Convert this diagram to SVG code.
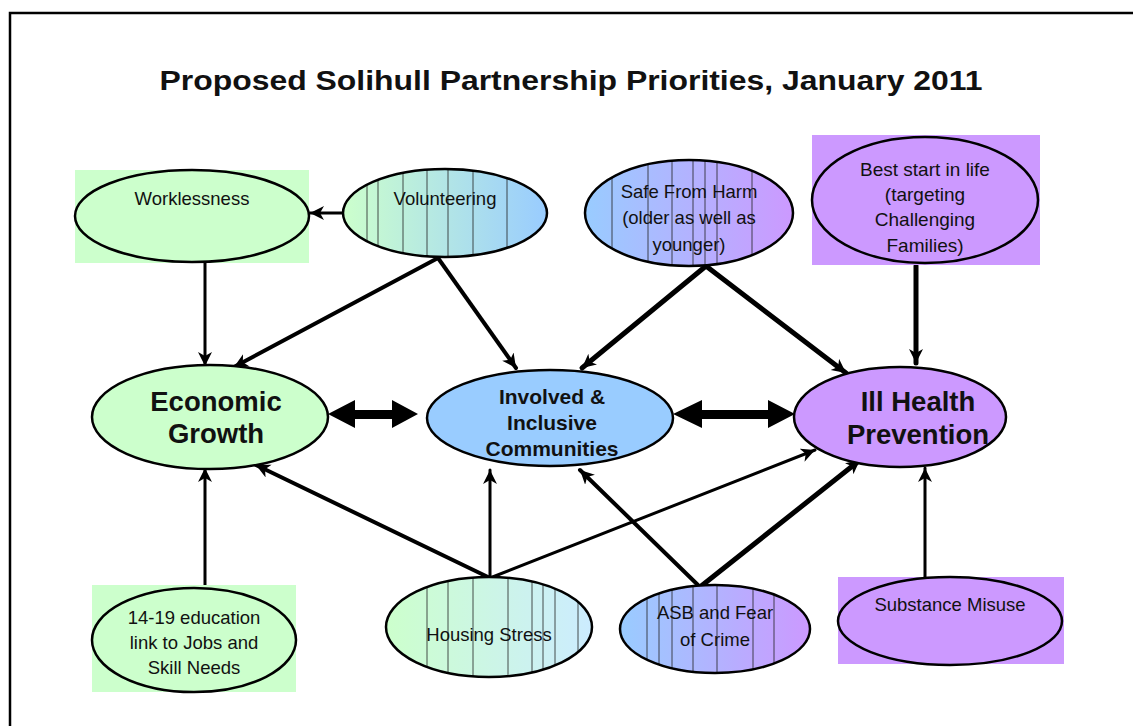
<svg xmlns="http://www.w3.org/2000/svg" width="1133" height="726" viewBox="0 0 1133 726">
  <style>
    text { font-family: "Liberation Sans", Arial, sans-serif; fill: #111; text-anchor: middle; }
    .small { font-size: 18.5px; }
    .mid { font-size: 21px; font-weight: bold; }
    .big { font-size: 27.5px; font-weight: bold; }
    .title { font-size: 27px; font-weight: bold; }
    .shape { stroke: #000; stroke-width: 2.5; }
    .stripe { stroke: #222; stroke-width: 0.8; }
    .link { stroke: #000; fill: none; stroke-linecap: round; }
    .w3 { stroke-width: 3; }
    .w4 { stroke-width: 4; }
    .w5 { stroke-width: 5; }
  </style>
  <defs>
    <marker id="arrow" markerUnits="userSpaceOnUse" markerWidth="18" markerHeight="16" refX="14" refY="7" orient="auto">
      <path d="M0,0 L14,7 L0,14 L4,7 Z" fill="#000"/>
    </marker>
    <linearGradient id="greenBlue" x1="0" y1="0" x2="1" y2="0">
      <stop offset="0" stop-color="#ccffcc"/>
      <stop offset="1" stop-color="#99ccff"/>
    </linearGradient>
    <linearGradient id="bluePurple" x1="0" y1="0" x2="1" y2="0">
      <stop offset="0" stop-color="#99ccff"/>
      <stop offset="1" stop-color="#cc99ff"/>
    </linearGradient>
    <linearGradient id="greenSky" x1="0" y1="0" x2="1" y2="0">
      <stop offset="0" stop-color="#ccffcc"/>
      <stop offset="1" stop-color="#ccecff"/>
    </linearGradient>
    <clipPath id="clipVol"><ellipse cx="445" cy="213" rx="102" ry="44"/></clipPath>
    <clipPath id="clipSafe"><ellipse cx="689" cy="213" rx="104" ry="53"/></clipPath>
    <clipPath id="clipHouse"><ellipse cx="489" cy="627" rx="103" ry="50"/></clipPath>
    <clipPath id="clipAsb"><ellipse cx="715" cy="629" rx="95" ry="44"/></clipPath>
  </defs>

  <rect width="1133" height="726" fill="#fff"/>
  <!-- page frame -->
  <path d="M10,740 L10,13 L1140,13" fill="none" stroke="#000" stroke-width="2.5"/>

  <text class="title" x="571" y="90" textLength="823" lengthAdjust="spacingAndGlyphs">Proposed Solihull Partnership Priorities, January 2011</text>

  <!-- connectors -->
  <g id="connectors">
    <line class="link w3" x1="343" y1="213" x2="310" y2="213" marker-end="url(#arrow)"/>
    <line class="link w3" x1="205" y1="263" x2="205" y2="366" marker-end="url(#arrow)"/>
    <line class="link w4" x1="438" y1="258" x2="234" y2="367" marker-end="url(#arrow)"/>
    <line class="link w4" x1="438" y1="258" x2="516" y2="368" marker-end="url(#arrow)"/>
    <line class="link w5" x1="706" y1="266" x2="582" y2="368" marker-end="url(#arrow)"/>
    <line class="link w5" x1="706" y1="266" x2="846" y2="373" marker-end="url(#arrow)"/>
    <line class="link w5" x1="916" y1="266" x2="916" y2="363" marker-end="url(#arrow)"/>
    <line class="link w3" x1="205" y1="587" x2="205" y2="468" marker-end="url(#arrow)"/>
    <line class="link w4" x1="490" y1="578" x2="256" y2="465" marker-end="url(#arrow)"/>
    <line class="link w3" x1="490" y1="578" x2="490" y2="470" marker-end="url(#arrow)"/>
    <line class="link w3" x1="490" y1="578" x2="815" y2="450" marker-end="url(#arrow)"/>
    <line class="link w4" x1="700" y1="587" x2="580" y2="470" marker-end="url(#arrow)"/>
    <line class="link w5" x1="700" y1="587" x2="860" y2="460" marker-end="url(#arrow)"/>
    <line class="link w3" x1="925" y1="577" x2="925" y2="468" marker-end="url(#arrow)"/>
    <!-- two-way block arrows between the three themes -->
    <path d="M328,414 L355,400 L355,410 L392,410 L392,400 L418,414 L392,428 L392,419 L355,419 L355,428 Z" fill="#000"/>
    <path d="M673,414 L702,400 L702,410 L768,410 L768,400 L795,414 L768,428 L768,419 L702,419 L702,428 Z" fill="#000"/>
  </g>

  <g id="worklessness">
    <rect x="75" y="170" width="234" height="93" fill="#ccffcc"/>
    <ellipse class="shape" cx="192" cy="216" rx="117" ry="46" fill="#ccffcc"/>
    <text class="small" x="192" y="205">Worklessness</text>
  </g>

  <g id="volunteering">
    <ellipse cx="445" cy="213" rx="102" ry="44" fill="url(#greenBlue)"/>
    <g clip-path="url(#clipVol)" class="stripe">
      <line x1="367" y1="160" x2="367" y2="270"/>
      <line x1="378" y1="160" x2="378" y2="270"/>
      <line x1="403" y1="160" x2="403" y2="270"/>
      <line x1="427" y1="160" x2="427" y2="270"/>
      <line x1="448" y1="160" x2="448" y2="270"/>
      <line x1="473" y1="160" x2="473" y2="270"/>
      <line x1="507" y1="160" x2="507" y2="270"/>
    </g>
    <ellipse class="shape" cx="445" cy="213" rx="102" ry="44" fill="none"/>
    <text class="small" x="445" y="205">Volunteering</text>
  </g>

  <g id="safe-from-harm">
    <ellipse cx="689" cy="213" rx="104" ry="53" fill="url(#bluePurple)"/>
    <g clip-path="url(#clipSafe)" class="stripe">
      <line x1="612" y1="150" x2="612" y2="280"/>
      <line x1="648" y1="150" x2="648" y2="280"/>
      <line x1="672" y1="150" x2="672" y2="280"/>
      <line x1="693" y1="150" x2="693" y2="280"/>
      <line x1="705" y1="150" x2="705" y2="280"/>
      <line x1="717" y1="150" x2="717" y2="280"/>
      <line x1="752" y1="150" x2="752" y2="280"/>
    </g>
    <ellipse class="shape" cx="689" cy="213" rx="104" ry="53" fill="none"/>
    <text class="small" x="689" y="198">Safe From Harm</text>
    <text class="small" x="689" y="224">(older as well as</text>
    <text class="small" x="689" y="251">younger)</text>
  </g>

  <g id="best-start">
    <rect x="812" y="135" width="228" height="130" fill="#cc99ff"/>
    <ellipse class="shape" cx="925" cy="200" rx="113" ry="63" fill="#cc99ff"/>
    <text class="small" x="925" y="176" style="font-size:19px">Best start in life</text>
    <text class="small" x="925" y="201" style="font-size:19px">(targeting</text>
    <text class="small" x="925" y="226" style="font-size:19px">Challenging</text>
    <text class="small" x="925" y="252" style="font-size:19px">Families)</text>
  </g>

  <g id="economic-growth">
    <ellipse class="shape" cx="210" cy="417" rx="118" ry="52" fill="#ccffcc"/>
    <text class="big" x="216" y="411">Economic</text>
    <text class="big" x="216" y="443">Growth</text>
  </g>

  <g id="involved-communities">
    <ellipse class="shape" cx="550" cy="418" rx="123" ry="48" fill="#99ccff"/>
    <text class="mid" x="552" y="404">Involved &amp;</text>
    <text class="mid" x="552" y="430">Inclusive</text>
    <text class="mid" x="552" y="456">Communities</text>
  </g>

  <g id="ill-health-prevention">
    <ellipse class="shape" cx="900" cy="417" rx="106" ry="50" fill="#cc99ff"/>
    <text class="big" x="918" y="411">Ill Health</text>
    <text class="big" x="918" y="444">Prevention</text>
  </g>

  <g id="education-14-19">
    <rect x="92" y="585" width="204" height="107" fill="#ccffcc"/>
    <ellipse class="shape" cx="194" cy="640" rx="102" ry="52" fill="#ccffcc"/>
    <text class="small" x="194" y="624">14-19 education</text>
    <text class="small" x="194" y="649">link to Jobs and</text>
    <text class="small" x="194" y="674">Skill Needs</text>
  </g>

  <g id="housing-stress">
    <ellipse cx="489" cy="627" rx="103" ry="50" fill="url(#greenSky)"/>
    <g clip-path="url(#clipHouse)" class="stripe">
      <line x1="427" y1="570" x2="427" y2="690"/>
      <line x1="448" y1="570" x2="448" y2="690"/>
      <line x1="473" y1="570" x2="473" y2="690"/>
      <line x1="508" y1="570" x2="508" y2="690"/>
      <line x1="532" y1="570" x2="532" y2="690"/>
      <line x1="543" y1="570" x2="543" y2="690"/>
      <line x1="555" y1="570" x2="555" y2="690"/>
      <line x1="578" y1="570" x2="578" y2="690"/>
    </g>
    <ellipse class="shape" cx="489" cy="627" rx="103" ry="50" fill="none"/>
    <text class="small" x="489" y="641">Housing Stress</text>
  </g>

  <g id="asb-fear-of-crime">
    <ellipse cx="715" cy="629" rx="95" ry="44" fill="url(#bluePurple)"/>
    <g clip-path="url(#clipAsb)" class="stripe">
      <line x1="647" y1="580" x2="647" y2="680"/>
      <line x1="659" y1="580" x2="659" y2="680"/>
      <line x1="672" y1="580" x2="672" y2="680"/>
      <line x1="693" y1="580" x2="693" y2="680"/>
      <line x1="717" y1="580" x2="717" y2="680"/>
      <line x1="753" y1="580" x2="753" y2="680"/>
      <line x1="774" y1="580" x2="774" y2="680"/>
    </g>
    <ellipse class="shape" cx="715" cy="629" rx="95" ry="44" fill="none"/>
    <text class="small" x="715" y="619">ASB and Fear</text>
    <text class="small" x="715" y="646">of Crime</text>
  </g>

  <g id="substance-misuse">
    <rect x="838" y="577" width="226" height="87" fill="#cc99ff"/>
    <ellipse class="shape" cx="950" cy="621" rx="112" ry="44" fill="#cc99ff"/>
    <text class="small" x="950" y="611">Substance Misuse</text>
  </g>
</svg>
